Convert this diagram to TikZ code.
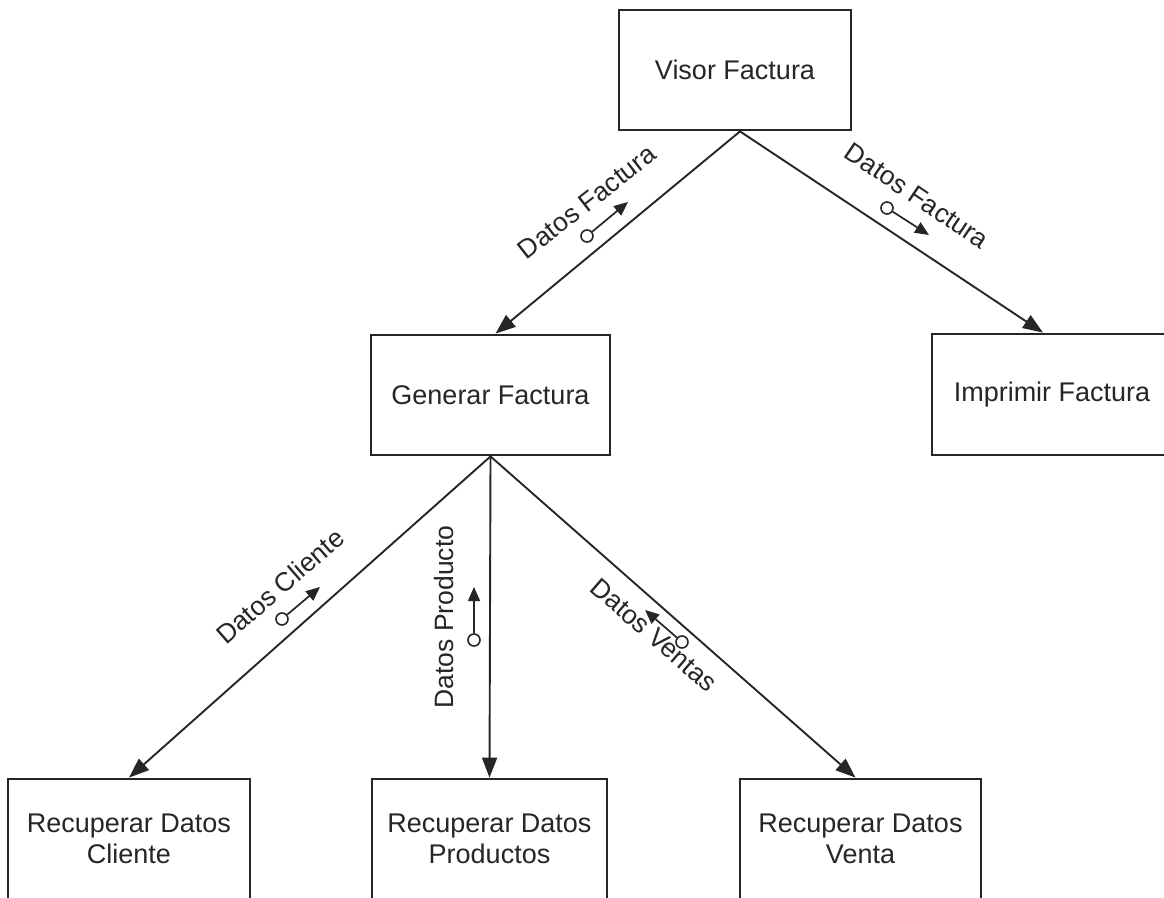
\documentclass[tikz,border=0pt]{standalone}
\usepackage{fontspec}
\setmainfont{Liberation Sans}
\usetikzlibrary{arrows.meta}
\begin{document}
\begin{tikzpicture}[x=1pt,y=-1pt,
  box/.style={draw=black!85, line width=2.8pt, fill=white, align=center,
    font=\fontsize{27}{31}\selectfont, text=black!85, inner sep=0pt},
  flow/.style={draw=black!85, line width=1.9pt, -{Triangle[length=20pt,width=15pt]}},
  lbl/.style={font=\fontsize{26.5}{31}\selectfont, text=black!85, inner sep=0pt},
  ring/.style={circle, draw=black!85, line width=1.6pt, minimum size=12pt, inner sep=0pt, fill=white},
  couple/.style={draw=black!85, line width=1.7pt, -{Triangle[length=14pt,width=12pt]}}]
\useasboundingbox (0,0) rectangle (1164,897);
\clip (0,0) rectangle (1164,897);
\fill[white] (0,0) rectangle (1164,897);

% boxes
\node[box, minimum width=232pt, minimum height=120pt] (vis) at (735,70) {Visor Factura};
\node[box, minimum width=239pt, minimum height=120pt] (gen) at (490.5,395) {Generar Factura};
\node[box, minimum width=240pt, minimum height=121pt] (imp) at (1052,394.5) {Imprimir Factura};
\node[box, minimum width=242pt, minimum height=120pt] (cli) at (129,839) {Recuperar Datos\\Cliente};
\node[box, minimum width=235pt, minimum height=120pt] (pro) at (489.5,839) {Recuperar Datos\\Productos};
\node[box, minimum width=241pt, minimum height=120pt] (ven) at (860.5,839) {Recuperar Datos\\Venta};

% connectors
\coordinate (vo) at ([xshift=5pt]vis.south);
\draw[flow] (vo) -- ([xshift=5pt]gen.north);
\draw[flow] (vo) -- ([xshift=-9pt]imp.north);
\draw[flow] (gen.south) -- (cli.north);
\draw[flow] (gen.south) -- (pro.north);
\draw[flow] (gen.south) -- ([xshift=-5pt]ven.north);

% data couples
\coordinate (t1) at (628,202);
\node[ring] (r1) at (587,236) {};
\draw[couple] (r1) -- (t1);
\node[lbl, rotate=38] (l1) at (587,202) {Datos Factura};

\coordinate (t2) at (929,235);
\node[ring] (r2) at (887,208) {};
\draw[couple] (r2) -- (t2);
\node[lbl, rotate=-34] (l2) at (917,196) {Datos Factura};

\coordinate (t3) at (320,587);
\node[ring] (r3) at (282,619) {};
\draw[couple] (r3) -- (t3);
\node[lbl, rotate=41] (l3) at (280,586) {Datos Cliente};

\coordinate (t4) at (474,587);
\node[ring] (r4) at (474,640) {};
\draw[couple] (r4) -- (t4);
\node[lbl, rotate=90] (l4) at (444,617) {Datos Producto};

\coordinate (t5) at (645,610);
\node[ring] (r5) at (682,642) {};
\draw[couple] (r5) -- (t5);
\node[lbl, rotate=-41] (l5) at (654,635) {Datos Ventas};
\end{tikzpicture}
\end{document}
